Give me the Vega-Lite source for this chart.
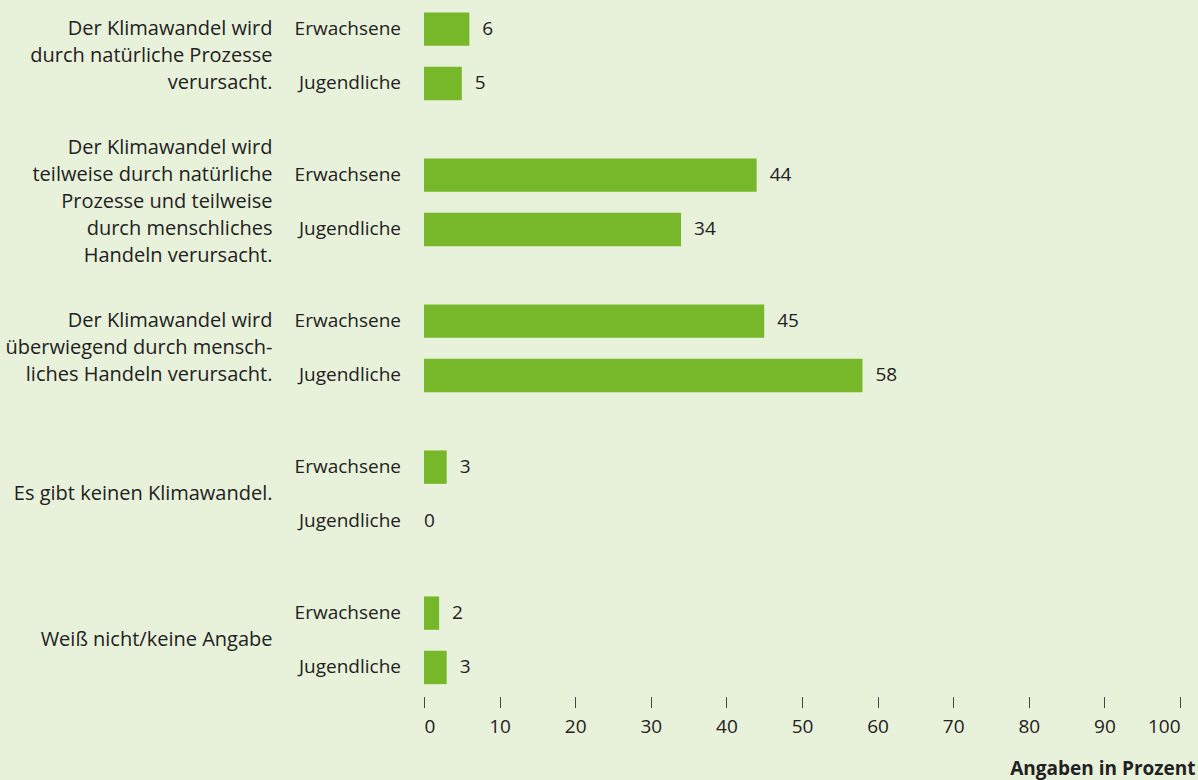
{
  "$schema": "https://vega.github.io/schema/vega-lite/v6.json",
  "background": "#e8f1da",
  "autosize": {"type": "none"},
  "padding": {"left": 424, "top": 2, "right": 18, "bottom": 85.4},
  "width": 756,
  "height": 692.6,
  "data": {
    "values": [
      {"frage": "Der Klimawandel wird\ndurch natürliche Prozesse\nverursacht.", "gruppe": "Erwachsene", "prozent": 6},
      {"frage": "Der Klimawandel wird\ndurch natürliche Prozesse\nverursacht.", "gruppe": "Jugendliche", "prozent": 5},
      {"frage": "Der Klimawandel wird\nteilweise durch natürliche\nProzesse und teilweise\ndurch menschliches\nHandeln verursacht.", "gruppe": "Erwachsene", "prozent": 44},
      {"frage": "Der Klimawandel wird\nteilweise durch natürliche\nProzesse und teilweise\ndurch menschliches\nHandeln verursacht.", "gruppe": "Jugendliche", "prozent": 34},
      {"frage": "Der Klimawandel wird\nüberwiegend durch mensch-\nliches Handeln verursacht.", "gruppe": "Erwachsene", "prozent": 45},
      {"frage": "Der Klimawandel wird\nüberwiegend durch mensch-\nliches Handeln verursacht.", "gruppe": "Jugendliche", "prozent": 58},
      {"frage": "Es gibt keinen Klimawandel.", "gruppe": "Erwachsene", "prozent": 3},
      {"frage": "Es gibt keinen Klimawandel.", "gruppe": "Jugendliche", "prozent": 0},
      {"frage": "Weiß nicht/keine Angabe", "gruppe": "Erwachsene", "prozent": 2},
      {"frage": "Weiß nicht/keine Angabe", "gruppe": "Jugendliche", "prozent": 3}
    ]
  },
  "encoding": {
    "y": {
      "field": "frage",
      "type": "nominal",
      "sort": [
        "Der Klimawandel wird\ndurch natürliche Prozesse\nverursacht.",
        "Der Klimawandel wird\nteilweise durch natürliche\nProzesse und teilweise\ndurch menschliches\nHandeln verursacht.",
        "Der Klimawandel wird\nüberwiegend durch mensch-\nliches Handeln verursacht.",
        "Es gibt keinen Klimawandel.",
        "Weiß nicht/keine Angabe"
      ],
      "scale": {"paddingInner": 0.256, "paddingOuter": 0},
      "axis": {
        "title": null,
        "domain": false,
        "ticks": false,
        "labelFont": "Open Sans",
        "labelFontSize": 20,
        "labelColor": "#222222",
        "labelAlign": "right",
        "labelBaseline": "middle",
        "labelLineHeight": 27,
        "labelPadding": 152,
        "labelLimit": 0,
        "labelExpr": "split(datum.value, '\\n')",
        "labelOffset": {
          "condition": [
            {"test": "length(split(datum.value, '\\n')) == 5", "value": -54},
            {"test": "length(split(datum.value, '\\n')) == 3", "value": -27}
          ],
          "value": 0
        }
      }
    },
    "yOffset": {
      "field": "gruppe",
      "type": "nominal",
      "sort": ["Erwachsene", "Jugendliche"],
      "scale": {"paddingInner": 0.385, "paddingOuter": 0.1925}
    },
    "x": {
      "field": "prozent",
      "type": "quantitative",
      "scale": {"domain": [0, 100]},
      "axis": {
        "title": "Angaben in Prozent",
        "titleFont": "Open Sans",
        "titleFontSize": 19,
        "titleFontWeight": "bold",
        "titleColor": "#222222",
        "titleAnchor": "end",
        "titleAlign": "right",
        "titleX": 771,
        "titleY": 78,
        "titleBaseline": "alphabetic",
        "values": [0, 10, 20, 30, 40, 50, 60, 70, 80, 90, 100],
        "grid": false,
        "domain": false,
        "tickSize": 11,
        "tickColor": "#444444",
        "tickWidth": 1,
        "offset": 2,
        "labelFont": "Open Sans",
        "labelFontSize": 19,
        "labelColor": "#222222",
        "labelPadding": 10
      }
    }
  },
  "layer": [
    {"mark": {"type": "bar", "color": "#76b82a"}},
    {
      "mark": {"type": "text", "align": "right", "baseline": "middle", "dx": -23, "font": "Open Sans", "fontSize": 19, "color": "#222222"},
      "encoding": {"x": {"datum": 0}, "text": {"field": "gruppe", "type": "nominal"}}
    },
    {
      "transform": [{"filter": "datum.prozent > 0"}],
      "mark": {"type": "text", "align": "left", "baseline": "middle", "dx": 13, "font": "Open Sans", "fontSize": 19, "color": "#222222"},
      "encoding": {"text": {"field": "prozent", "type": "quantitative"}}
    },
    {
      "transform": [{"filter": "datum.prozent == 0"}],
      "mark": {"type": "text", "align": "left", "baseline": "middle", "dx": 0, "font": "Open Sans", "fontSize": 19, "color": "#222222"},
      "encoding": {"text": {"field": "prozent", "type": "quantitative"}}
    }
  ],
  "config": {
    "view": {"stroke": null}
  }
}
